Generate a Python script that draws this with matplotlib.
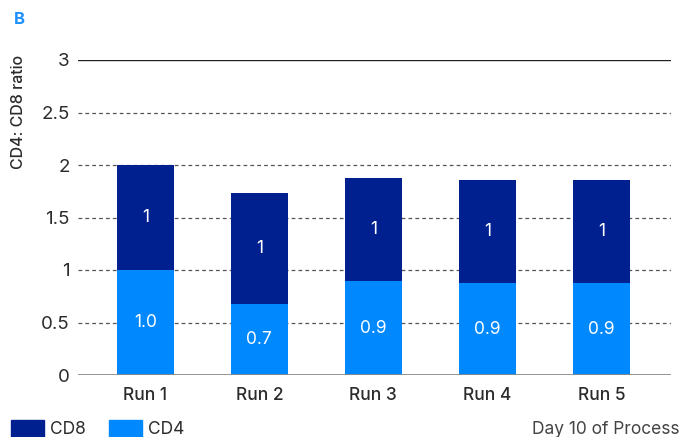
import matplotlib
matplotlib.use("Agg")
import matplotlib.pyplot as plt
from matplotlib.patches import Rectangle

categories = ["Run 1", "Run 2", "Run 3", "Run 4", "Run 5"]
cd4 = [1.0, 0.68, 0.895, 0.876, 0.876]
cd8 = [1.0, 1.05, 0.98, 0.98, 0.98]
cd4_labels = ["1.0", "0.7", "0.9", "0.9", "0.9"]
cd8_labels = ["1", "1", "1", "1", "1"]
yticks = [0, 0.5, 1, 1.5, 2, 2.5, 3]
ytick_labels = ["0", "0.5", "1", "1.5", "2", "2.5", "3"]

C_CD8 = "#00208F"
C_CD4 = "#0089FF"
TXT = "#2b2b2b"

plt.rcParams["font.family"] = ["Inter", "DejaVu Sans"]

W, H = 682, 437
fig = plt.figure(figsize=(W / 100, H / 100), dpi=100)
ax = fig.add_axes([78 / W, 1 - 375 / H, (671 - 78) / W, (375 - 60) / H])

x = list(range(len(categories)))
ax.bar(x, cd4, width=0.5, color=C_CD4, zorder=2)
ax.bar(x, cd8, width=0.5, bottom=cd4, color=C_CD8, zorder=2)

for i in x:
    ax.text(i, cd4[i] / 2, cd4_labels[i], ha="center", va="center",
            color="white", fontsize=12.5, zorder=3)
    ax.text(i, cd4[i] + cd8[i] / 2, cd8_labels[i], ha="center", va="center",
            color="white", fontsize=12.5, zorder=3)

ax.set_xlim(-0.59, 4.61)
ax.set_ylim(0, 3)
ax.set_yticks(yticks)
ax.set_yticklabels(ytick_labels)
ax.set_xticks(x)
ax.set_xticklabels(categories, fontweight="medium")
ax.tick_params(axis="both", length=0, colors=TXT)
ax.tick_params(axis="x", pad=9, labelsize=12.5)
ax.tick_params(axis="y", pad=6, labelsize=13.5)

for v in yticks[1:-1]:
    ax.axhline(v, color="#555555", lw=0.9, ls=(0, (3, 2.5)), zorder=1)
ax.axhline(3, color="#222222", lw=1.0, zorder=1)
ax.axhline(0, color="#8a8a8a", lw=2.0, zorder=4)

for s in ax.spines.values():
    s.set_visible(False)

fig.text(19 / W, 1 - 112 / H, "CD4: CD8 ratio", rotation=90, ha="center",
         va="center", fontsize=11.5, color=TXT, fontweight="medium")
fig.text(14 / W, 1 - 20 / H, "B", ha="left", va="center", fontsize=12,
         color="#1E90FF", fontweight="bold")

# legend
fig.patches.append(Rectangle((11 / W, 1 - 437 / H), 33 / W, 17 / H,
                             transform=fig.transFigure, color=C_CD8))
fig.patches.append(Rectangle((109 / W, 1 - 437 / H), 33 / W, 17 / H,
                             transform=fig.transFigure, color=C_CD4))
fig.text(50 / W, 1 - 430 / H, "CD8", ha="left", va="center", fontsize=12.5, color=TXT)
fig.text(148 / W, 1 - 430 / H, "CD4", ha="left", va="center", fontsize=12.5, color=TXT)
fig.text(680 / W, 1 - 429 / H, "Day 10 of Process", ha="right", va="center",
         fontsize=12.5, color="#444444")

fig.savefig("out.png", dpi=100)
